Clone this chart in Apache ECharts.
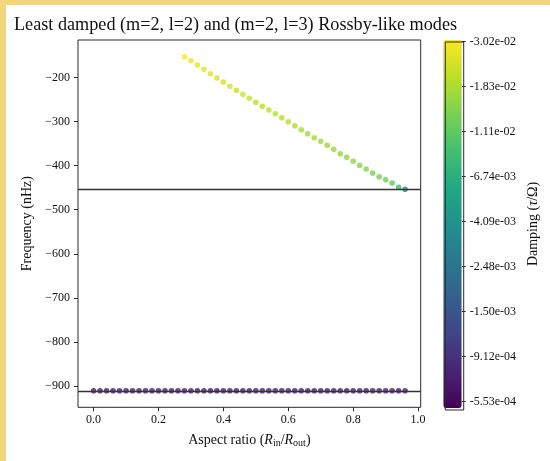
<!DOCTYPE html>
<html>
<head>
<meta charset="utf-8">
<script src="https://cdn.jsdelivr.net/npm/echarts@6/dist/echarts.min.js"></script>
<style>
html,body{margin:0;padding:0;background:#f2d67c;width:550px;height:461px;overflow:hidden;}
#chart{position:absolute;left:6px;top:5px;width:544px;height:456px;background:#ffffff;}
</style>
</head>
<body>
<div id="chart"></div>
<script>
// ---- data ----
const xTop = [0.28,0.30,0.32,0.34,0.36,0.38,0.40,0.42,0.44,0.46,0.48,0.50,0.52,0.54,0.56,0.58,0.60,0.62,0.64,0.66,0.68,0.70,0.72,0.74,0.76,0.78,0.80,0.82,0.84,0.86,0.88,0.90,0.92,0.94,0.96];
const freqTop = [-152.8,-161.9,-171.6,-181.4,-191.4,-201.1,-210.2,-220.0,-229.0,-238.1,-247.2,-256.3,-265.4,-273.7,-282.1,-291.2,-300.3,-309.4,-318.4,-327.5,-336.6,-344.8,-353.8,-362.7,-372.9,-381.1,-390.2,-399.2,-407.6,-416.7,-425.1,-431.9,-439.4,-449.1,-453.7];
const dampTop = [-3.07e-2,-2.89e-2,-2.74e-2,-2.63e-2,-2.53e-2,-2.45e-2,-2.38e-2,-2.32e-2,-2.26e-2,-2.21e-2,-2.15e-2,-2.10e-2,-2.06e-2,-2.02e-2,-1.97e-2,-1.94e-2,-1.89e-2,-1.86e-2,-1.82e-2,-1.78e-2,-1.75e-2,-1.71e-2,-1.68e-2,-1.64e-2,-1.60e-2,-1.56e-2,-1.51e-2,-1.47e-2,-1.42e-2,-1.37e-2,-1.32e-2,-1.25e-2,-1.15e-2,-8.29e-3,-3.97e-3];

const xBottom = [0.00,0.02,0.04,0.06,0.08,0.10,0.12,0.14,0.16,0.18,0.20,0.22,0.24,0.26,0.28,0.30,0.32,0.34,0.36,0.38,0.40,0.42,0.44,0.46,0.48,0.50,0.52,0.54,0.56,0.58,0.60,0.62,0.64,0.66,0.68,0.70,0.72,0.74,0.76,0.78,0.80,0.82,0.84,0.86,0.88,0.90,0.92,0.94,0.96];
const freqBottom = [-911,-911,-911,-911,-911,-911,-911,-911,-911,-911,-911,-911,-911,-911,-911,-911,-911,-911,-911,-911,-911,-911,-911,-911,-911,-911,-911,-911,-911,-911,-911,-911,-911,-911,-911,-911,-911,-911,-911,-911,-911,-911,-911,-911,-911,-911,-911,-911,-911];
const dampBottom = [-7.2e-4,-7.2e-4,-7.2e-4,-7.2e-4,-7.2e-4,-7.2e-4,-7.2e-4,-7.2e-4,-7.2e-4,-7.2e-4,-7.2e-4,-7.2e-4,-7.2e-4,-7.2e-4,-7.2e-4,-7.2e-4,-7.2e-4,-7.2e-4,-7.2e-4,-7.2e-4,-7.2e-4,-7.2e-4,-7.2e-4,-7.2e-4,-7.2e-4,-7.2e-4,-7.2e-4,-7.2e-4,-7.2e-4,-7.2e-4,-7.2e-4,-7.2e-4,-7.2e-4,-7.2e-4,-7.2e-4,-7.2e-4,-7.2e-4,-7.2e-4,-7.2e-4,-7.2e-4,-7.2e-4,-7.2e-4,-7.2e-4,-7.2e-4,-7.2e-4,-7.2e-4,-7.2e-4,-7.2e-4,-7.2e-4];

const refLines = [-454, -911];
const xTicks = [0.0,0.2,0.4,0.6,0.8,1.0];
const yTicks = [-900,-800,-700,-600,-500,-400,-300,-200];
const cbTicks = [-7.5,-7.0,-6.5,-6.0,-5.5,-5.0,-4.5,-4.0,-3.5]; // ln|damping|
const xRange = [-0.048, 1.008];
const yRange = [-948.4, -114.9];
const cbRange = [-7.573, -3.483];

const viridis = ['#440154','#482475','#414487','#355f8d','#2a788e','#21918c','#22a884','#44bf70','#7ad151','#bddf26','#fde725'];

// ---- layout ----
const FONT = '"Liberation Serif", "DejaVu Serif", serif';
const G = {left: 72, top: 35, width: 342.7, height: 367.3};
const CB = {left: 437.3, top: 35, width: 18.4, height: 368};
const AX = '#2a2a2a';

function fmtExp(v) {
  const s = Math.exp(v).toExponential(2);
  const [m, e] = s.split('e');
  const sign = e[0];
  let d = e.slice(1);
  if (d.length < 2) d = '0' + d;
  return '-' + m + 'e' + sign + d;
}

const topData = xTop.map((x, i) => [x, freqTop[i], Math.log(-dampTop[i])]);
const botData = xBottom.map((x, i) => [x, freqBottom[i], Math.log(-dampBottom[i])]);

const chart = echarts.init(document.getElementById('chart'), null, {renderer: 'canvas'});
chart.setOption({
  animation: false,
  backgroundColor: '#ffffff',
  textStyle: {fontFamily: FONT},
  title: {
    text: 'Least damped (m=2, l=2) and (m=2, l=3) Rossby-like modes',
    left: 8, top: 11, padding: 0,
    textStyle: {fontFamily: FONT, fontSize: 18.2, fontWeight: 'normal', color: '#111'}
  },
  grid: [
    {left: G.left, top: G.top, width: G.width, height: G.height, show: true, borderColor: AX, borderWidth: 1, backgroundColor: 'transparent'},
    {left: CB.left, top: CB.top, width: CB.width, height: CB.height, show: false}
  ],
  xAxis: [
    {
      gridIndex: 0, type: 'value', min: xRange[0], max: xRange[1],
      axisLine: {show: false, onZero: false},
      splitLine: {show: false},
      axisTick: {show: true, customValues: xTicks, length: 4, inside: false, lineStyle: {color: AX, width: 1}},
      axisLabel: {customValues: xTicks, formatter: v => v.toFixed(1), fontFamily: FONT, fontSize: 12, color: '#111', margin: 7},
      name: 'Aspect ratio ({i|R}{s|in}/{i|R}{s|out})',
      nameLocation: 'middle', nameGap: 25,
      nameTextStyle: {
        fontFamily: FONT, fontSize: 14, color: '#111',
        rich: {
          i: {fontFamily: FONT, fontSize: 14, fontStyle: 'italic', color: '#111'},
          s: {fontFamily: FONT, fontSize: 10, color: '#111', verticalAlign: 'bottom', padding: [6, 0, 0, 0]}
        }
      }
    },
    {gridIndex: 1, type: 'value', min: 0, max: 1, show: false}
  ],
  yAxis: [
    {
      gridIndex: 0, type: 'value', min: yRange[0], max: yRange[1],
      axisLine: {show: false, onZero: false},
      splitLine: {show: false},
      axisTick: {show: true, customValues: yTicks, length: 4, inside: false, lineStyle: {color: AX, width: 1}},
      axisLabel: {customValues: yTicks, formatter: v => '\u2212' + Math.abs(v), fontFamily: FONT, fontSize: 12, color: '#111', margin: 8},
      name: 'Frequency (nHz)', nameLocation: 'middle', nameGap: 43,
      nameTextStyle: {fontFamily: FONT, fontSize: 14, color: '#111'}
    },
    {
      gridIndex: 1, type: 'value', min: cbRange[0], max: cbRange[1], position: 'right',
      axisLine: {show: false, onZero: false},
      splitLine: {show: false},
      axisTick: {show: true, customValues: cbTicks, length: 4, inside: false, lineStyle: {color: AX, width: 1}},
      axisLabel: {customValues: cbTicks, formatter: v => fmtExp(v), fontFamily: FONT, fontSize: 12, color: '#111', margin: 8},
      name: 'Damping ({i|τ}/Ω)', nameLocation: 'middle', nameGap: 65, nameRotate: 90,
      nameTextStyle: {
        fontFamily: FONT, fontSize: 14, color: '#111',
        rich: {i: {fontFamily: FONT, fontSize: 14, fontStyle: 'italic', color: '#111'}}
      }
    }
  ],
  visualMap: {
    type: 'continuous', min: cbRange[0], max: cbRange[1], dimension: 2, seriesIndex: [0, 1],
    inRange: {color: viridis},
    left: CB.left, top: CB.top, itemWidth: CB.width, itemHeight: CB.height,
    padding: 0, calculable: false, hoverLink: false, orient: 'vertical', showLabel: false,
    text: null
  },
  graphic: [
    {type: 'rect', left: CB.left - 0.5, top: CB.top - 0.5, z: 100, silent: true,
     shape: {width: CB.width, height: CB.height}, style: {fill: 'none', stroke: AX, lineWidth: 1}}
  ],
  series: [
    {type: 'scatter', xAxisIndex: 0, yAxisIndex: 0, data: topData, symbolSize: 5.6, z: 3},
    {type: 'scatter', xAxisIndex: 0, yAxisIndex: 0, data: botData, symbolSize: 5.6, z: 3},
    {type: 'scatter', xAxisIndex: 0, yAxisIndex: 0, data: [], z: 1, silent: true,
     markLine: {silent: true, symbol: ['none', 'none'], label: {show: false},
       lineStyle: {color: '#333', width: 1.4, type: 'solid'},
       data: refLines.map(v => ({yAxis: v}))}}
  ]
});
</script>
</body>
</html>
